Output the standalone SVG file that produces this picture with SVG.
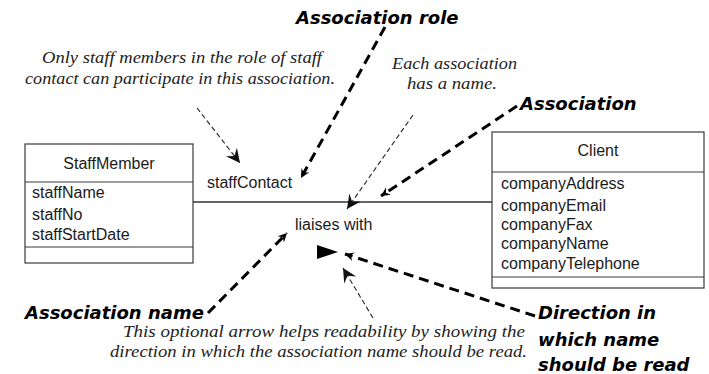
<svg xmlns="http://www.w3.org/2000/svg" width="709" height="374" viewBox="0 0 709 374">
  <style>
    .box { fill: #fff; stroke: #3a3a3a; stroke-width: 1.2; }
    .div { stroke: #3a3a3a; stroke-width: 1.2; }
    .uml { font-family: "Liberation Sans", Arial, sans-serif; font-size: 16px; fill: #1a1a1a; }
    .note { font-family: "Liberation Serif", "Times New Roman", serif; font-style: italic; font-size: 17px; fill: #222; }
    .label { font-family: "DejaVu Sans", Verdana, sans-serif; font-weight: bold; font-style: italic; font-size: 18px; fill: #000; }
    .bold { fill: none; stroke: #000; stroke-width: 3; stroke-dasharray: 10 6; }
    .thin { fill: none; stroke: #222; stroke-width: 1.1; stroke-dasharray: 5 3; }
  </style>
  <defs>
    <marker id="bh" markerUnits="userSpaceOnUse" markerWidth="12" markerHeight="12" viewBox="-11 -6 12 12" refX="0" refY="0" orient="auto">
      <path d="M0,0 L-9,-4.5 L-6,0 L-9,4.5 Z" fill="#000"/>
    </marker>
    <marker id="th" markerUnits="userSpaceOnUse" markerWidth="18" markerHeight="16" viewBox="-16 -8 18 16" refX="0" refY="0" orient="auto">
      <path d="M0,0 L-14,-7 L-9,0 L-14,7 Z" fill="#111"/>
    </marker>
  </defs>
  <rect width="709" height="374" fill="#fff"/>

  <g id="connectors">
    <line id="association" x1="193" y1="202" x2="492" y2="202" stroke="#333" stroke-width="1.3"/>
    <polygon id="direction-arrow" points="317,245 338,252 317,259" fill="#000"/>
    <path class="bold" d="M385,27 L301,178" marker-end="url(#bh)"/>
    <path class="bold" d="M517,106 L381,196" marker-end="url(#bh)"/>
    <path class="bold" d="M208,313 L287,233" marker-end="url(#bh)"/>
    <path class="bold" d="M535,316 L345,254" marker-end="url(#bh)"/>
    <path class="thin" d="M197,108 L240,163" marker-end="url(#th)"/>
    <path class="thin" d="M413,115 L347,209" marker-end="url(#th)"/>
    <path class="thin" d="M373,318 L343,268" marker-end="url(#th)"/>
  </g>

  <g id="StaffMember">
    <rect class="box" x="25" y="144" width="168" height="119"/>
    <line class="div" x1="25" y1="182" x2="193" y2="182"/>
    <line class="div" x1="25" y1="247" x2="193" y2="247"/>
    <text class="uml" x="109" y="169" text-anchor="middle">StaffMember</text>
    <text class="uml" x="32" y="198">staffName</text>
    <text class="uml" x="32" y="220">staffNo</text>
    <text class="uml" x="32" y="240">staffStartDate</text>
  </g>

  <g id="Client">
    <rect class="box" x="492" y="132" width="212" height="156"/>
    <line class="div" x1="492" y1="172" x2="704" y2="172"/>
    <line class="div" x1="492" y1="277" x2="704" y2="277"/>
    <text class="uml" x="598" y="156" text-anchor="middle">Client</text>
    <text class="uml" x="501" y="189">companyAddress</text>
    <text class="uml" x="501" y="211">companyEmail</text>
    <text class="uml" x="501" y="230">companyFax</text>
    <text class="uml" x="501" y="249">companyName</text>
    <text class="uml" x="501" y="269">companyTelephone</text>
  </g>

  <g id="role-name">
    <text class="uml" x="207" y="188">staffContact</text>
  </g>
  <g id="association-name">
    <text class="uml" x="295" y="230">liaises with</text>
  </g>

  <g id="labels">
    <text class="label" x="296" y="24">Association role</text>
    <text class="label" x="520" y="110">Association</text>
    <text class="label" x="25" y="319">Association name</text>
    <text class="label" x="538" y="319">Direction in</text>
    <text class="label" x="538" y="346">which name</text>
    <text class="label" x="538" y="371">should be read</text>
  </g>

  <g id="notes">
    <text class="note" x="42" y="63" textLength="280" lengthAdjust="spacingAndGlyphs">Only staff members in the role of staff</text>
    <text class="note" x="25" y="84" textLength="310" lengthAdjust="spacingAndGlyphs">contact can participate in this association.</text>
    <text class="note" x="392" y="69" textLength="125" lengthAdjust="spacingAndGlyphs">Each association</text>
    <text class="note" x="407" y="89" textLength="90" lengthAdjust="spacingAndGlyphs">has a name.</text>
    <text class="note" x="123" y="337" textLength="402" lengthAdjust="spacingAndGlyphs">This optional arrow helps readability by showing the</text>
    <text class="note" x="110" y="357" textLength="417" lengthAdjust="spacingAndGlyphs">direction in which the association name should be read.</text>
  </g>
</svg>
